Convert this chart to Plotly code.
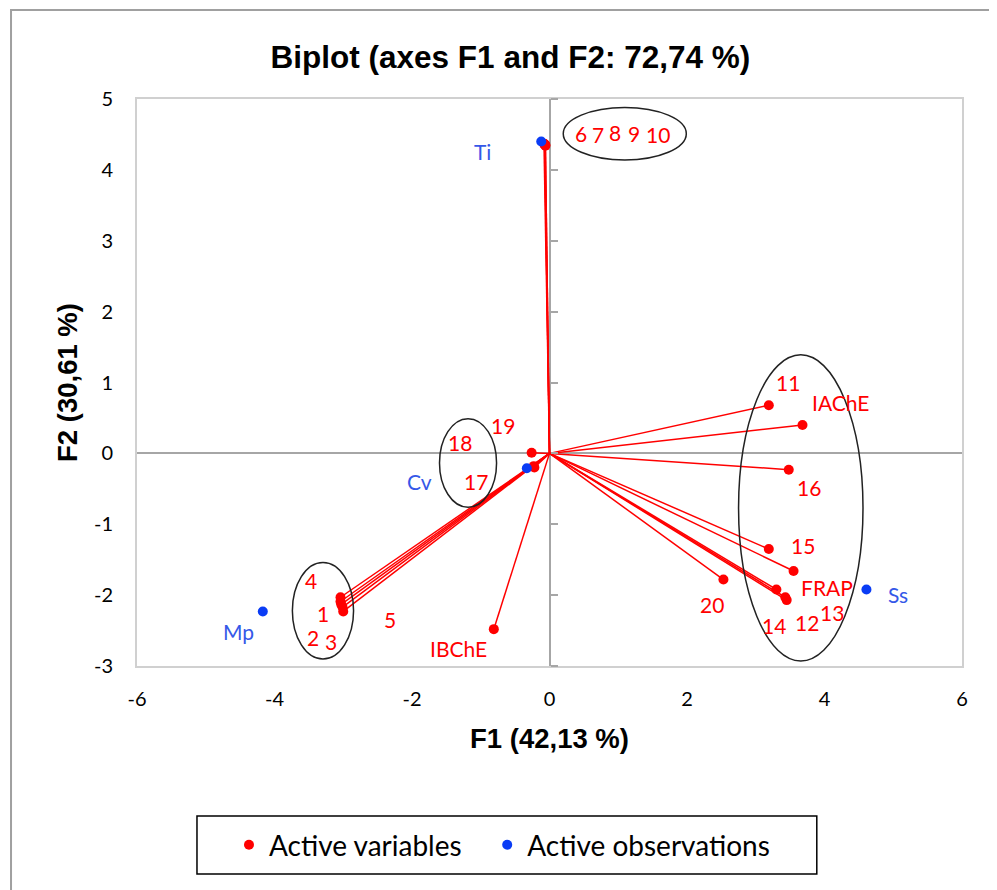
import plotly.graph_objects as go

# ---- data ----
var_labels = ["1", "2", "3", "4", "5", "6", "7", "8", "9", "10",
              "11", "12", "13", "14", "15", "16", "17", "18", "19", "20",
              "IAChE", "FRAP", "IBChE"]
var_f1 = [-3.03, -3.04, -3.00, -3.04, -3.01, -0.07, -0.06, -0.08, -0.07, -0.06,
          3.19, 3.45, 3.43, 3.30, 3.19, 3.48, -0.22, -0.23, -0.26, 2.53,
          3.68, 3.55, -0.81]
var_f2 = [-2.13, -2.09, -2.23, -2.03, -2.17, 4.36, 4.35, 4.37, 4.36, 4.34,
          0.68, -2.07, -2.03, -1.92, -1.35, -0.23, -0.20, -0.18, 0.01, -1.78,
          0.40, -1.66, -2.48]

obs_labels = ["Ti", "Cv", "Mp", "Ss"]
obs_f1 = [-0.12, -0.33, -4.17, 4.61]
obs_f2 = [4.40, -0.21, -2.23, -1.92]

x_ticks = [-6, -4, -2, 0, 2, 4, 6]
x_tick_text = ["-6", "-4", "-2", "0", "2", "4", "6"]
y_ticks = [-3, -2, -1, 0, 1, 2, 3, 4, 5]
y_tick_text = ["-3", "-2", "-1", "0", "1", "2", "3", "4", "5"]

# ---- label offsets (pixels, style only) ----
var_offsets = {
    "1": (-18, -9), "2": (-28, -36), "3": (-12, -30), "4": (-30, 17), "5": (47, -12),
    "6": (36, 11), "7": (53, 11), "8": (71, 11), "9": (89, 11), "10": (113, 11),
    "11": (19, 23), "12": (20, -22), "13": (47, -15), "14": (-2, -36), "15": (34, 4),
    "16": (20, -18), "17": (-58, -14), "18": (-74, 24), "19": (-29, 27), "20": (-11, -25),
    "IAChE": (38, 23), "FRAP": (33, -16), "IBChE": (-35, -19),
}
obs_offsets = {"Ti": (-59, -10), "Cv": (-107, -13), "Mp": (-24, -20), "Ss": (32, -5)}

RED = "#ff0000"
BLUE = "#0a3cf5"
BLUE_TXT = "#3558e8"
FONT = "Lato, 'Noto Sans', sans-serif"
BOLD = "'Liberation Sans', Arial, sans-serif"

fig = go.Figure()

# vectors from the origin
lx, ly = [], []
for x, y in zip(var_f1, var_f2):
    lx += [0, x, None]
    ly += [0, y, None]
fig.add_trace(go.Scatter(x=lx, y=ly, mode="lines", line=dict(color=RED, width=1.5),
                         showlegend=False, hoverinfo="skip"))

fig.add_trace(go.Scatter(x=var_f1, y=var_f2, mode="markers", name="Active variables",
                         marker=dict(color=RED, size=10), text=var_labels, legend="legend"))
fig.add_trace(go.Scatter(x=obs_f1, y=obs_f2, mode="markers", name="Active observations",
                         marker=dict(color=BLUE, size=10), text=obs_labels, legend="legend2"))
# dummy for tick axis on the vertical zero line
fig.add_trace(go.Scatter(x=[None], y=[None], yaxis="y2", showlegend=False, hoverinfo="skip"))

annotations = []
for lab, x, y in zip(var_labels, var_f1, var_f2):
    dx, dy = var_offsets[lab]
    annotations.append(dict(x=x, y=y, text=lab, showarrow=False, xshift=dx, yshift=dy,
                            font=dict(color=RED, size=21, family=FONT)))
for lab, x, y in zip(obs_labels, obs_f1, obs_f2):
    dx, dy = obs_offsets[lab]
    annotations.append(dict(x=x, y=y, text=lab, showarrow=False, xshift=dx, yshift=dy,
                            font=dict(color=BLUE_TXT, size=21, family=FONT)))

ell = dict(type="circle", xref="x", yref="y", line=dict(color="#222222", width=1.5), layer="above")
shapes = [
    dict(ell, x0=0.20, x1=1.99, y0=4.14, y1=4.88),
    dict(ell, x0=-3.74, x1=-2.85, y0=-2.90, y1=-1.54),
    dict(ell, x0=-1.60, x1=-0.77, y0=-0.76, y1=0.49),
    dict(ell, x0=2.75, x1=4.56, y0=-2.93, y1=1.39),
    # legend box
    dict(type="rect", xref="paper", yref="paper", x0=0.0727, x1=0.824, y0=-0.3668, y1=-0.2646,
         line=dict(color="#000000", width=1.5)),
    # outer chart frame
    dict(type="rect", xref="paper", yref="paper", x0=-0.1527, x1=1.06, y0=-0.42, y1=1.157,
         line=dict(color="#a0a0a0", width=2)),
]

legend_style = dict(orientation="h", xanchor="left", y=-0.3157, yanchor="middle",
                    font=dict(size=28, family=FONT), bgcolor="rgba(0,0,0,0)")

fig.update_layout(
    width=989, height=882,
    margin=dict(l=129, r=35, t=91, b=224),
    paper_bgcolor="white", plot_bgcolor="white",
    font=dict(family=FONT, color="#000000"),
    title=dict(text="<b>Biplot (axes F1 and F2: 72,74 %)</b>", x=0.508, xanchor="center",
               y=0.945, yanchor="middle",
               font=dict(family=BOLD, size=31.5, color="#000")),
    xaxis=dict(range=[-6, 6], tickvals=x_ticks, ticktext=x_tick_text, ticks="", showgrid=False,
               zeroline=True, zerolinecolor="#a6a6a6", zerolinewidth=2,
               showline=True, mirror=True, linecolor="#d0d0d0", linewidth=2,
               tickfont=dict(size=20, family=FONT), ticklabelstandoff=14,
               title=dict(text="<b>F1 (42,13 %)</b>", standoff=20,
                          font=dict(family=BOLD, size=27.5))),
    yaxis=dict(range=[-3, 5], tickvals=y_ticks, ticktext=y_tick_text, ticks="", showgrid=False,
               zeroline=True, zerolinecolor="#a6a6a6", zerolinewidth=2,
               showline=True, mirror=True, linecolor="#d0d0d0", linewidth=2,
               tickfont=dict(size=20, family=FONT), ticklabelstandoff=18,
               title=dict(text="<b>F2 (30,61 %)</b>", standoff=8,
                          font=dict(family=BOLD, size=27.5))),
    yaxis2=dict(range=[-3, 5], tickvals=y_ticks, overlaying="y", anchor="free", position=0.5,
                side="right", ticks="outside", ticklen=7, tickcolor="#a6a6a6", tickwidth=1.5,
                showticklabels=False, showgrid=False, zeroline=False, showline=False),
    legend=dict(legend_style, x=0.1115),
    legend2=dict(legend_style, x=0.4245),
    annotations=annotations,
    shapes=shapes,
    showlegend=True,
)

fig.write_html("out.html")
